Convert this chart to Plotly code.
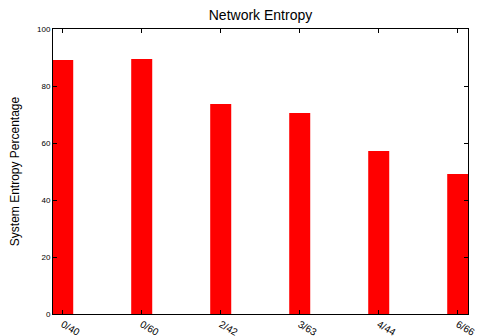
import plotly.graph_objects as go

categories = ["0/40", "0/60", "2/42", "3/63", "4/44", "6/66"]
entropy = [89.1, 89.5, 73.7, 70.5, 57.2, 49.1]
y_ticks = [0, 20, 40, 60, 80, 100]

positions = list(range(len(categories)))

fig = go.Figure()
fig.add_trace(go.Bar(
    x=positions, y=entropy, width=0.266,
    marker=dict(color="#ff0000", line=dict(width=0)),
))

fig.update_layout(
    width=477, height=336,
    margin=dict(l=53, r=9, t=29, b=22),
    paper_bgcolor="white", plot_bgcolor="white",
    font=dict(family="Liberation Sans, Arial, sans-serif", color="black"),
    title=dict(text="Network Entropy", x=260.5 / 477, xanchor="center",
               y=1 - 15 / 336, yanchor="middle", font=dict(size=14)),
    showlegend=False,
)
fig.update_xaxes(
    range=[-0.123, 5.13],
    tickmode="array", tickvals=positions, ticktext=categories,
    tickangle=30, tickfont=dict(size=10),
    ticks="inside", ticklen=4, tickcolor="black",
    showline=True, linecolor="black", linewidth=1, mirror="ticks",
    showgrid=False, zeroline=False, automargin=False,
)
fig.update_yaxes(
    range=[0, 100],
    tickmode="array", tickvals=y_ticks,
    tickfont=dict(size=8),
    ticks="inside", ticklen=4, tickcolor="black",
    showline=True, linecolor="black", linewidth=1, mirror="ticks",
    showgrid=False, zeroline=False, automargin=False,
    title=dict(text="System Entropy Percentage", font=dict(size=12), standoff=14),
)

fig.write_html(
    "out.html",
    config={"displayModeBar": False},
    post_script="document.body.style.margin='0';document.body.style.overflow='hidden';",
)
